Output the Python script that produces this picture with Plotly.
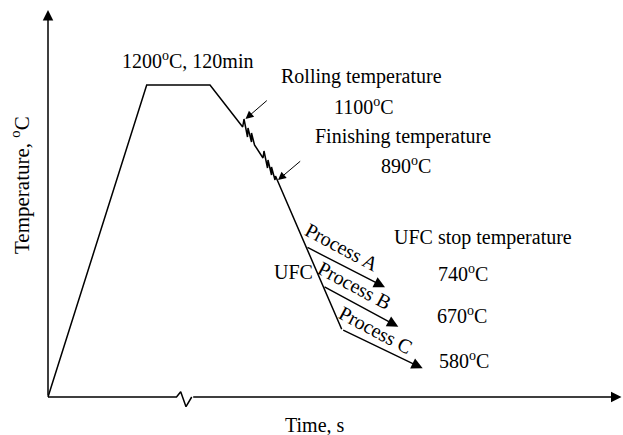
import plotly.graph_objects as go

# Schematic coordinates (time units, temperature units) of the thermal profile
profile_time = [0, 98.7, 162, 194.7, 196.0, 199.5, 200.0, 203.5, 203.5, 206.5,
                215.0, 216.0, 219.5, 220.0, 223.5, 223.5, 227.0, 227.5, 293.7]
profile_temp = [0, 312, 312, 270.0, 278.0, 260.0, 269.0, 255.0, 264.0, 252.0,
                239.0, 246.0, 229.0, 237.0, 222.0, 230.0, 217.0, 221.0, 67.7]

# x axis with break symbol
xaxis_time = [0, 128.5, 132.7, 138.0, 143.7]
xaxis_temp = [0, 0, 5.3, -9.7, 0]
axis_end_time = 573.5
axis_end_temp = 387

# UFC process branches: start and end points
proc_names = ["Process A", "Process B", "Process C"]
proc_start_time = [258.0, 275.0, 293.7]
proc_start_temp = [150.3, 111.0, 67.7]
proc_end_time = [337.0, 350.3, 374.7]
proc_end_temp = [109.7, 70.3, 28.7]
proc_label_time = [294.0, 306.0, 327.7]
proc_label_temp = [150.0, 112.0, 67.0]

# pointer arrows (rolling / finishing)
ptr_tail_time = [220.3, 253.7]
ptr_tail_temp = [297.7, 237.0]
ptr_tip_time = [197.5, 230.0]
ptr_tip_temp = [278.0, 217.0]

DEG = "<sup>o</sup>"
# text labels
labels = [
    ("1200" + DEG + "C, 120min", 139.5, 337),
    ("Rolling temperature", 313.7, 320.7),
    ("1100" + DEG + "C", 316.0, 291.2),
    ("Finishing temperature", 355.0, 260.7),
    ("890" + DEG + "C", 357.8, 232.0),
    ("UFC stop temperature", 434.5, 159.8),
    ("740" + DEG + "C", 414.5, 124.0),
    ("670" + DEG + "C", 413.5, 82.3),
    ("580" + DEG + "C", 416.2, 37.3),
    ("UFC", 245.8, 125.3),
    ("Time, s", 267.0, -28.0),
]

FONT = dict(family="Liberation Serif, Times New Roman, serif", size=20, color="black")
LW = 1.5

fig = go.Figure()
fig.add_trace(go.Scatter(x=profile_time, y=profile_temp, mode="lines",
                         line=dict(color="black", width=LW), hoverinfo="skip"))
fig.add_trace(go.Scatter(x=xaxis_time, y=xaxis_temp, mode="lines",
                         line=dict(color="black", width=LW), hoverinfo="skip"))

ann = []
# axis arrows
ann.append(dict(x=axis_end_time, y=0, ax=xaxis_time[-1], ay=0, axref="x", ayref="y",
                xref="x", yref="y", text="", showarrow=True, arrowhead=2,
                arrowsize=1.4, arrowwidth=LW, arrowcolor="black", standoff=0))
ann.append(dict(x=0, y=axis_end_temp, ax=0, ay=0, axref="x", ayref="y",
                xref="x", yref="y", text="", showarrow=True, arrowhead=2,
                arrowsize=1.4, arrowwidth=LW, arrowcolor="black", standoff=0))
# process arrows + labels
for i, name in enumerate(proc_names):
    ann.append(dict(x=proc_end_time[i], y=proc_end_temp[i], ax=proc_start_time[i],
                    ay=proc_start_temp[i], axref="x", ayref="y", xref="x", yref="y",
                    text="", showarrow=True, arrowhead=2, arrowsize=1.6,
                    arrowwidth=1.4, arrowcolor="black", standoff=0))
    ann.append(dict(x=proc_label_time[i], y=proc_label_temp[i], xref="x", yref="y",
                    text=name, showarrow=False, textangle=28, font=FONT))
# pointer arrows
for i in range(len(ptr_tip_time)):
    ann.append(dict(x=ptr_tip_time[i], y=ptr_tip_temp[i], ax=ptr_tail_time[i],
                    ay=ptr_tail_temp[i], axref="x", ayref="y", xref="x", yref="y",
                    text="", showarrow=True, arrowhead=2, arrowsize=1.6,
                    arrowwidth=1.0, arrowcolor="black", standoff=0))
for t, x, y in labels:
    ann.append(dict(x=x, y=y, xref="x", yref="y", text=t, showarrow=False, font=FONT))
ann.append(dict(x=-28, y=212, xref="x", yref="y", text="Temperature, " + DEG + "C",
                showarrow=False, textangle=-90, font=dict(FONT, size=21)))

fig.update_layout(
    width=623, height=435,
    margin=dict(l=0, r=0, t=0, b=0),
    paper_bgcolor="white", plot_bgcolor="white",
    showlegend=False,
    xaxis=dict(visible=False, range=[-48, 575], fixedrange=True),
    yaxis=dict(visible=False, range=[-38, 397], fixedrange=True),
    annotations=ann,
)
fig.write_html("out.html")
